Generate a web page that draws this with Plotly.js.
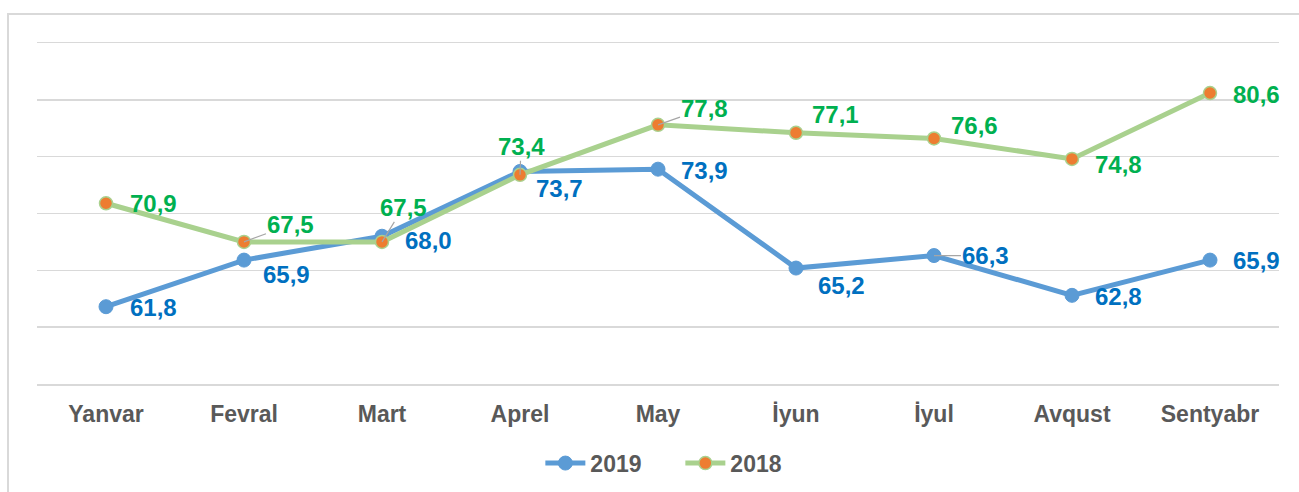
<!DOCTYPE html>
<html>
<head>
<meta charset="utf-8">
<script src="https://cdn.plot.ly/plotly-3.0.1.min.js"></script>
<style>
html,body{margin:0;padding:0;background:#fff;overflow:hidden;}
#wrap{position:relative;width:1299px;height:492px;}
#frame{position:absolute;left:7px;top:13px;width:1299px;height:492px;border-left:2px solid #D9D9D9;border-top:2px solid #D9D9D9;pointer-events:none;}
#chart{position:absolute;left:0;top:0;width:1299px;height:492px;}
</style>
</head>
<body>
<div id="wrap"><div id="frame"></div><div id="chart"></div></div>
<script>
const months = ["Yanvar","Fevral","Mart","Aprel","May","İyun","İyul","Avqust","Sentyabr"];
const values2019 = [61.8, 65.9, 68.0, 73.7, 73.9, 65.2, 66.3, 62.8, 65.9];
const values2018 = [70.9, 67.5, 67.5, 73.4, 77.8, 77.1, 76.6, 74.8, 80.6];
const labels2019 = ["61,8","65,9","68,0","73,7","73,9","65,2","66,3","62,8","65,9"];
const labels2018 = ["70,9","67,5","67,5","73,4","77,8","77,1","76,6","74,8","80,6"];

// label offsets (pixels) and leader flags - styling only
const off2019 = [[47,1],[42,14],[46,4],[39,17],[46,1],[45,17],[51,0],[46,1],[46,0]];
const off2018 = [[47,0],[46,-17],[21,-34],[1,-28],[46,-16],[39,-18],[40,-13],[46,6],[46,1]];
const lead2019 = [0,0,0,0,0,0,1,0,0];
const lead2018 = [0,1,1,1,1,0,0,0,0];

const FONT = "'Liberation Sans', Arial, sans-serif";

const traces = [
  {
    x: months, y: values2019, name: "2019", type: "scatter", mode: "lines+markers",
    line: {color: "#5B9BD5", width: 5},
    marker: {color: "#5B9BD5", size: 14, line: {color: "#5B9BD5", width: 1}},
    hoverinfo: "skip"
  },
  {
    x: months, y: values2018, name: "2018", type: "scatter", mode: "lines+markers",
    line: {color: "#A9D18E", width: 5},
    marker: {color: "#ED7D31", size: 13, line: {color: "#A9D18E", width: 1.5}},
    hoverinfo: "skip"
  }
];

const annotations = [];
function addLabels(vals, labs, offs, leads, color) {
  vals.forEach((v, i) => {
    annotations.push({
      x: months[i], y: v, xref: "x", yref: "y",
      text: "<b>" + labs[i] + "</b>",
      showarrow: true, arrowhead: 0, arrowwidth: 1.2,
      arrowcolor: leads[i] ? "#A6A6A6" : "rgba(0,0,0,0)",
      ax: offs[i][0], ay: offs[i][1], axref: "pixel", ayref: "pixel",
      xanchor: "center", yanchor: "middle",
      font: {family: FONT, size: 24, color: color},
      borderpad: 0
    });
  });
}
addLabels(values2019, labels2019, off2019, lead2019, "#0070C0");
addLabels(values2018, labels2018, off2018, lead2018, "#00B050");

const layout = {
  width: 1299, height: 492,
  margin: {l: 37, r: 20, t: 43, b: 108, autoexpand: false},
  paper_bgcolor: "rgba(0,0,0,0)", plot_bgcolor: "rgba(0,0,0,0)",
  showlegend: true,
  legend: {
    orientation: "h", x: 0.518, xanchor: "center", y: -0.232, yanchor: "middle",
    font: {family: FONT, size: 23, color: "#595959", weight: "bold"},
    traceorder: "normal", itemwidth: 40, entrywidth: 85, entrywidthmode: "pixels"
  },
  xaxis: {
    type: "category", range: [-0.5, 8.5],
    showgrid: false, zeroline: false, showline: true, mirror: true,
    linecolor: "#D9D9D9", linewidth: 1.5, ticks: "",
    ticklabelstandoff: 9,
    tickfont: {family: FONT, size: 23, color: "#595959", weight: "bold"},
    fixedrange: true
  },
  yaxis: {
    range: [55, 85], dtick: 5, tick0: 55,
    showgrid: true, gridcolor: "#D9D9D9", gridwidth: 1.5,
    zeroline: false, showline: false, showticklabels: false, ticks: "",
    fixedrange: true
  },
  annotations: annotations
};

Plotly.newPlot("chart", traces, layout, {displayModeBar: false, staticPlot: true});
</script>
</body>
</html>
